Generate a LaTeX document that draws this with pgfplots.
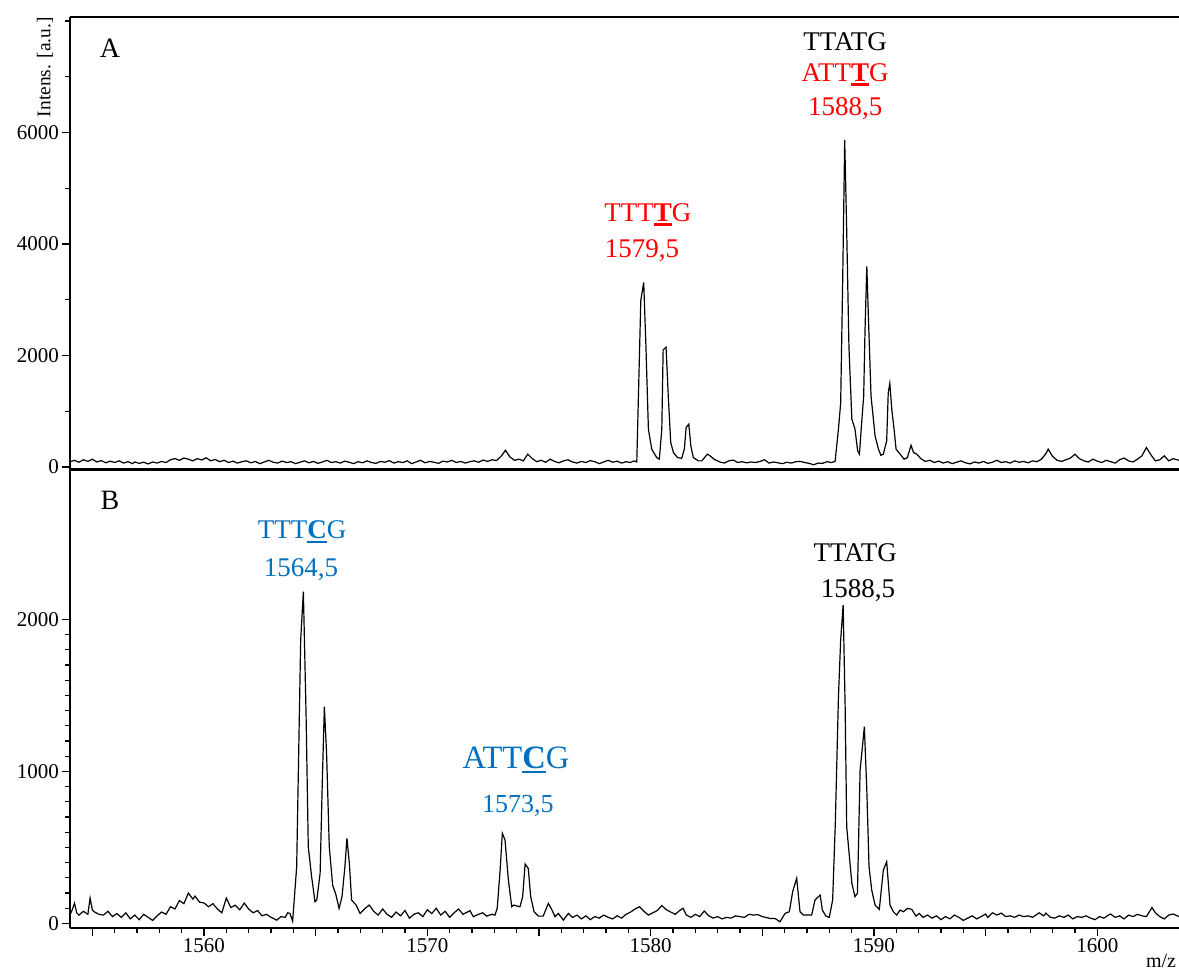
\documentclass[border=0pt]{standalone}
\usepackage{fontspec}
\setmainfont{Liberation Serif}
\usepackage{pgfplots}
\pgfplotsset{compat=1.18}
\definecolor{myblue}{RGB}{0,112,192}
\newcommand{\ub}[1]{\setbox0\hbox{\bfseries #1}\rlap{\rule[-2.3pt]{\wd0}{1.3pt}}\box0}
\newcommand{\lbl}{\fontsize{13.5}{16}\selectfont}

\begin{document}
\begin{tikzpicture}
\pgfplotsset{
 common/.style={
  scale only axis, width=554.5pt,
  xmin=1554.0, xmax=1603.66,
  axis y line*=left,
  tick align=outside,
  axis line style={line width=0.6pt},
  major tick length=4pt, minor tick length=2.5pt,
  every tick/.style={line width=0.6pt, black},
  /pgf/number format/assume math mode=true,
  /pgf/number format/set thousands separator={},
  ticklabel style={font=\fontsize{10.5}{12}\selectfont},
  yticklabel style={xshift=2pt},
  xticklabel style={yshift=2.5pt},
  scaled y ticks=false,
 }
}
\path[use as bounding box] (-35pt,-21.5pt) rectangle (554.5pt,464pt);

% ---------- Panel B ----------
\begin{axis}[common, name=B, at={(0,0)}, anchor=south west,
  height=229pt, ymin=-30, ymax=2983,
  axis x line*=bottom,
  xtick={1555,1560,...,1600},
  xticklabels={,1560,,1570,,1580,,1590,,1600},
  minor x tick num=4,
  ytick={0,1000,2000}, minor y tick num=9,
]
\addplot[black, line width=0.6pt] coordinates {
(1554.0,55)(1554.1,90)(1554.2,134)(1554.3,70)(1554.4,55)(1554.6,80)(1554.8,60)(1554.9,167)(1555.0,90)(1555.1,75)
(1555.3,60)(1555.5,55)(1555.7,80)(1555.9,45)(1556.1,65)(1556.3,40)(1556.5,70)(1556.7,30)(1556.9,55)(1557.1,25)
(1557.3,60)(1557.5,40)(1557.7,20)(1557.9,50)(1558.1,75)(1558.3,60)(1558.5,110)(1558.7,95)(1558.9,150)(1559.1,130)
(1559.3,200)(1559.5,160)(1559.6,180)(1559.8,140)(1560.0,135)(1560.2,110)(1560.4,130)(1560.6,95)(1560.8,70)(1561.0,167)
(1561.2,105)(1561.4,120)(1561.6,90)(1561.8,134)(1562.0,95)(1562.2,70)(1562.4,85)(1562.6,50)(1562.8,60)(1562.96,44)
(1563.26,22)(1563.45,45)(1563.63,40)(1563.75,70)(1563.85,66)(1563.97,15)(1564.15,373)(1564.33,1865)(1564.45,2183)(1564.57,1382)
(1564.67,505)(1564.82,307)(1564.97,143)(1565.05,154)(1565.20,330)(1565.30,944)(1565.39,1426)(1565.49,1119)(1565.61,505)(1565.76,253)
(1565.91,187)(1566.05,99)(1566.18,176)(1566.31,373)(1566.40,560)(1566.51,395)(1566.61,154)(1566.81,121)(1566.99,66)(1567.21,99)
(1567.40,121)(1567.6,80)(1567.8,55)(1568.0,95)(1568.2,60)(1568.4,40)(1568.6,75)(1568.8,50)(1569.0,85)(1569.2,35)
(1569.4,60)(1569.6,70)(1569.8,45)(1570.0,90)(1570.2,65)(1570.4,100)(1570.6,55)(1570.8,80)(1571.0,40)(1571.2,70)
(1571.4,95)(1571.6,60)(1571.91,84)(1572.06,44)(1572.21,55)(1572.48,70)(1572.66,48)(1572.88,60)(1573.03,55)(1573.13,99)
(1573.26,351)(1573.36,593)(1573.48,549)(1573.63,286)(1573.78,110)(1573.88,121)(1574.00,115)(1574.15,110)(1574.27,176)(1574.38,391)
(1574.52,362)(1574.63,176)(1574.78,77)(1574.97,48)(1575.19,48)(1575.42,132)(1575.57,92)(1575.72,44)(1575.87,66)(1576.09,22)
(1576.32,66)(1576.5,40)(1576.7,55)(1576.9,30)(1577.1,50)(1577.3,25)(1577.5,45)(1577.7,35)(1577.9,55)(1578.1,40)
(1578.3,30)(1578.5,50)(1578.7,35)(1578.9,60)(1579.1,75)(1579.3,95)(1579.5,110)(1579.7,80)(1579.9,55)(1580.1,70)
(1580.3,85)(1580.5,118)(1580.7,90)(1580.9,75)(1581.1,60)(1581.3,85)(1581.45,100)(1581.6,55)(1581.8,40)(1582.0,60)
(1582.2,45)(1582.4,82)(1582.6,50)(1582.8,35)(1583.0,45)(1583.2,30)(1583.4,40)(1583.6,35)(1583.8,50)(1584.0,45)
(1584.2,40)(1584.4,60)(1584.6,55)(1584.8,58)(1585.0,45)(1585.35,33)(1585.57,33)(1585.79,11)(1586.02,66)(1586.21,77)
(1586.36,209)(1586.54,297)(1586.69,77)(1586.84,55)(1587.21,55)(1587.36,154)(1587.59,187)(1587.69,88)(1587.85,48)(1588.00,40)
(1588.15,154)(1588.27,659)(1588.41,1492)(1588.51,1865)(1588.62,2095)(1588.71,1426)(1588.78,636)(1588.90,439)(1589.01,264)(1589.15,176)
(1589.26,198)(1589.38,1009)(1589.47,1141)(1589.57,1294)(1589.68,878)(1589.78,373)(1589.90,220)(1590.05,121)(1590.24,93)(1590.42,351)
(1590.57,406)(1590.72,121)(1590.87,77)(1591.02,55)(1591.17,88)(1591.32,77)(1591.50,99)(1591.69,93)(1591.88,48)(1592.03,66)
(1592.2,40)(1592.4,55)(1592.6,35)(1592.8,50)(1593.0,25)(1593.2,45)(1593.4,30)(1593.6,55)(1593.8,40)(1594.0,20)
(1594.2,35)(1594.4,50)(1594.6,30)(1594.8,45)(1595.0,62)(1595.1,40)(1595.3,70)(1595.5,55)(1595.7,68)(1595.9,45)
(1596.1,50)(1596.3,40)(1596.5,55)(1596.7,45)(1596.9,50)(1597.1,40)(1597.3,60)(1597.4,70)(1597.6,50)(1597.7,68)
(1597.9,40)(1598.1,35)(1598.3,50)(1598.5,40)(1598.7,55)(1598.9,30)(1599.1,45)(1599.3,40)(1599.5,50)(1599.7,35)
(1599.9,25)(1600.1,45)(1600.3,35)(1600.5,55)(1600.6,62)(1600.8,40)(1601.0,50)(1601.2,30)(1601.4,55)(1601.6,45)
(1601.8,60)(1602.0,50)(1602.2,45)(1602.45,105)(1602.6,70)(1602.8,45)(1603.0,30)(1603.2,55)(1603.4,62)(1603.66,45)
};
\node[font=\lbl, color=myblue] at (axis cs:1564.39,2575) {TTT\ub{C}G};
\node[font=\lbl, color=myblue] at (axis cs:1564.34,2325) {1564,5};
\node[font=\fontsize{16.3}{19}\selectfont, color=myblue] at (axis cs:1573.97,1075) {ATT\ub{C}G};
\node[font=\fontsize{13}{15}\selectfont, color=myblue] at (axis cs:1574.06,772) {1573,5};
\node[font=\lbl, color=black] at (axis cs:1589.16,2437) {TTATG};
\node[font=\lbl, color=black] at (axis cs:1589.29,2187) {1588,5};
\end{axis}

% ---------- Panel A ----------
\begin{axis}[common, name=A, at={(0,229pt)}, anchor=south west,
  height=226.5pt, ymin=-54, ymax=8073,
  axis x line*=box,
  xtick=\empty,
  ytick={0,2000,4000,6000}, minor ytick={1000,3000,5000,7000,8000},
]
\addplot[black, line width=0.6pt] coordinates {
(1554.0,95)(1554.2,120)(1554.4,85)(1554.6,130)(1554.8,100)(1555.0,140)(1555.2,90)(1555.4,115)(1555.6,75)(1555.8,105)
(1556.0,80)(1556.2,110)(1556.4,70)(1556.6,95)(1556.8,60)(1556.9,90)(1557.1,65)(1557.3,85)(1557.5,55)(1557.7,90)
(1557.9,70)(1558.1,100)(1558.3,80)(1558.5,130)(1558.7,150)(1558.9,120)(1559.1,160)(1559.3,140)(1559.5,110)(1559.7,150)
(1559.9,125)(1560.1,165)(1560.3,110)(1560.5,135)(1560.7,95)(1560.9,120)(1561.1,80)(1561.3,105)(1561.5,70)(1561.7,95)
(1561.9,110)(1562.1,75)(1562.3,100)(1562.5,60)(1562.7,90)(1562.9,120)(1563.1,85)(1563.3,70)(1563.5,105)(1563.7,80)
(1563.9,95)(1564.1,60)(1564.3,85)(1564.5,110)(1564.7,75)(1564.9,100)(1565.1,65)(1565.3,90)(1565.5,120)(1565.7,80)
(1565.9,95)(1566.1,70)(1566.3,105)(1566.5,85)(1566.7,60)(1566.9,95)(1567.1,75)(1567.3,110)(1567.5,80)(1567.7,65)
(1567.9,100)(1568.1,85)(1568.3,115)(1568.5,70)(1568.7,95)(1568.9,80)(1569.1,110)(1569.3,60)(1569.5,90)(1569.7,120)
(1569.9,75)(1570.1,100)(1570.3,85)(1570.5,65)(1570.7,105)(1570.9,90)(1571.1,120)(1571.3,80)(1571.5,100)(1571.7,70)
(1571.9,95)(1572.1,110)(1572.3,85)(1572.5,125)(1572.7,100)(1572.9,130)(1573.1,115)(1573.3,190)(1573.5,300)(1573.7,180)
(1573.9,120)(1574.1,140)(1574.3,110)(1574.5,230)(1574.7,150)(1574.9,95)(1575.1,120)(1575.3,85)(1575.5,140)(1575.7,100)
(1575.9,75)(1576.1,110)(1576.3,130)(1576.5,90)(1576.7,70)(1576.9,100)(1577.1,80)(1577.3,115)(1577.5,95)(1577.7,60)
(1577.9,90)(1578.1,120)(1578.3,85)(1578.5,105)(1578.7,70)(1578.9,95)(1579.1,80)(1579.25,110)(1579.38,90)(1579.56,2990)
(1579.69,3310)(1579.79,2160)(1579.90,680)(1580.05,320)(1580.27,170)(1580.39,140)(1580.50,680)(1580.56,2100)(1580.69,2150)(1580.79,1270)
(1580.90,440)(1581.02,260)(1581.20,170)(1581.39,155)(1581.51,320)(1581.59,710)(1581.71,770)(1581.80,380)(1581.91,170)(1582.14,110)
(1582.29,110)(1582.54,230)(1582.66,200)(1582.88,130)(1583.1,90)(1583.3,70)(1583.5,110)(1583.7,125)(1583.9,80)(1584.1,95)
(1584.3,75)(1584.5,90)(1584.7,80)(1584.9,100)(1585.1,130)(1585.3,70)(1585.5,90)(1585.7,75)(1585.9,60)(1586.1,85)
(1586.3,70)(1586.5,95)(1586.7,100)(1586.9,80)(1587.1,65)(1587.3,40)(1587.5,70)(1587.7,65)(1587.9,95)(1588.1,80)
(1588.26,100)(1588.41,680)(1588.51,1150)(1588.60,3350)(1588.69,5870)(1588.78,4240)(1588.88,2160)(1589.01,860)(1589.15,680)(1589.27,290)
(1589.35,230)(1589.45,800)(1589.54,1270)(1589.60,2460)(1589.68,3600)(1589.77,2460)(1589.87,1270)(1590.05,560)(1590.20,320)(1590.31,210)
(1590.42,230)(1590.57,470)(1590.64,1330)(1590.71,1500)(1590.80,1030)(1590.90,680)(1590.99,320)(1591.17,230)(1591.35,140)(1591.50,170)
(1591.66,390)(1591.77,260)(1591.92,230)(1592.1,150)(1592.3,100)(1592.5,120)(1592.7,80)(1592.9,105)(1593.1,70)(1593.3,95)
(1593.5,60)(1593.7,85)(1593.9,110)(1594.1,75)(1594.3,55)(1594.5,90)(1594.7,70)(1594.9,100)(1595.1,65)(1595.3,85)
(1595.5,120)(1595.7,80)(1595.9,95)(1596.1,70)(1596.3,110)(1596.5,85)(1596.7,100)(1596.9,75)(1597.1,110)(1597.3,95)
(1597.5,140)(1597.7,240)(1597.8,320)(1598.0,190)(1598.2,120)(1598.4,100)(1598.6,130)(1598.8,160)(1599.0,230)(1599.2,150)
(1599.4,110)(1599.6,90)(1599.8,140)(1600.0,105)(1600.2,80)(1600.4,120)(1600.6,95)(1600.8,70)(1601.0,130)(1601.2,160)
(1601.4,110)(1601.6,90)(1601.8,140)(1602.0,200)(1602.2,350)(1602.4,220)(1602.6,110)(1602.8,130)(1603.0,200)(1603.2,110)
(1603.4,150)(1603.66,120)
};
\node[font=\lbl, color=black] at (axis cs:1588.71,7623) {TTATG};
\node[font=\lbl, color=red] at (axis cs:1588.71,7035) {ATT\ub{T}G};
\node[font=\lbl, color=red] at (axis cs:1588.71,6429) {1588,5};
\node[font=\lbl, color=red] at (axis cs:1579.88,4524) {TTT\ub{T}G};
\node[font=\lbl, color=red] at (axis cs:1579.61,3883) {1579,5};
\end{axis}

\draw[line width=1.5pt] (A.south west) -- (A.south east);
\node[font=\fontsize{14}{16}\selectfont] at ([xshift=20pt,yshift=-15.5pt]A.north west) {A};
\node[font=\fontsize{14}{16}\selectfont] at ([xshift=20pt,yshift=-15pt]B.north west) {B};
\node[font=\fontsize{9.7}{11}\selectfont, rotate=90, anchor=east, inner sep=0pt] at ([xshift=-12.5pt]A.north west) {Intens. [a.u.]};
\node[font=\fontsize{10}{12}\selectfont, anchor=base, inner sep=0pt] at (545.5pt,-19.5pt) {m/z};
\end{tikzpicture}
\end{document}
